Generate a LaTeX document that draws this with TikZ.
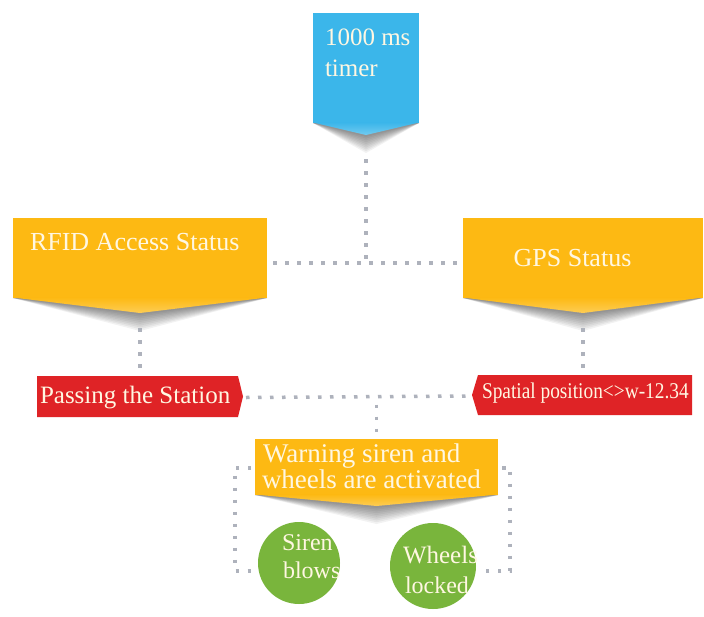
\documentclass[tikz,border=0pt]{standalone}
\usepackage{fontspec}
\setmainfont{Liberation Serif}
\usetikzlibrary{calc}
\definecolor{cblue}{HTML}{3BB6EA}
\definecolor{cyel}{HTML}{FDB913}
\definecolor{cred}{HTML}{DF2326}
\definecolor{cgreen}{HTML}{79B53C}
\definecolor{ctext}{HTML}{FFF7E2}
\definecolor{cdot}{HTML}{AEB2BC}
\newcommand\mychev[3]{%
  \foreach \k in {1,...,10}{%
    \fill[black,opacity=0.05] (#1.south west) -- ($(#1.south)+(0,#2+1.8*\k)$) -- (#1.south east) -- cycle;}
  \fill[#3] (#1.north west) rectangle (#1.south east);
  \shade[top color=#3,bottom color=#3!72!white] ($(#1.south west)+(0,-0.5)$) -- ($(#1.south)+(0,#2)$) -- ($(#1.south east)+(0,-0.5)$) -- cycle;
}
\begin{document}
\begin{tikzpicture}[x=1pt,y=-1pt,
  box/.style={inner sep=0pt,outer sep=0pt},
  dotline/.style={cdot,line width=3.5pt,dash pattern=on 3.5pt off 8.5pt},
  lbl/.style={text=ctext,inner sep=0pt,outer sep=0pt},
  fA/.style={font=\fontsize{25}{25}\selectfont},
  fB/.style={font=\fontsize{26}{26}\selectfont},
  fC/.style={font=\fontsize{27}{27}\selectfont},
  fD/.style={font=\fontsize{24}{24}\selectfont},
]
\useasboundingbox (0,0) rectangle (704,616);
\fill[white] (0,0) rectangle (704,616);

% shape nodes
\node[box,minimum width=106pt,minimum height=110pt] (timer) at (366,68) {};
\node[box,minimum width=254pt,minimum height=80pt] (rfid) at (140,258) {};
\node[box,minimum width=240pt,minimum height=80pt] (gps) at (583,258) {};
\node[box,minimum width=201pt,minimum height=41pt] (pass) at (137.5,396.5) {};
\node[box,minimum width=214pt,minimum height=40pt] (spat) at (585,395) {};
\node[box,minimum width=243pt,minimum height=56pt] (warn) at (376.5,467) {};
\node[circle,fill=cgreen,minimum size=82pt,inner sep=0pt] (siren) at (299,563) {};
\node[circle,fill=cgreen,minimum size=86pt,inner sep=0pt] (wheels) at (433,566) {};

% chevron boxes
\mychev{timer}{12}{cblue}
\mychev{rfid}{15}{cyel}
\mychev{gps}{15}{cyel}
\mychev{warn}{11}{cyel}

% red boxes with notches
\fill[cred] (pass.north west) -- (pass.north east) -- ($(pass.east)+(5,0)$) -- (pass.south east) -- (pass.south west) -- cycle;
\fill[cred] (spat.north west) -- (spat.north east) -- (spat.south east) -- (spat.south west) -- ($(spat.west)+(-6,0)$) -- cycle;

% connectors
\coordinate (j1) at ($(timer.south)+(0,140)$);
\draw[dotline] ($(timer.south)+(0,36)$) -- (j1);
\draw[dotline] ($(rfid.east)+(6,5)$) -- ($(gps.west)+(-4,5)$);
\draw[dotline] ($(rfid.south)+(0,30)$) -- ($(pass.north -| rfid.south)+(0,-4)$);
\draw[dotline] ($(gps.south)+(0,30)$) -- ($(spat.north -| gps.south)+(0,-4)$);
\draw[dotline] ($(pass.east)+(8,1)$) -- ($(spat.west)+(-9,1)$);
\coordinate (j2) at (pass.east -| warn.north);
\draw[dotline] ($(j2)+(0,8)$) -- (warn.north);
\draw[dotline] ($(warn.west)+(-4,1)$) -| ($(siren.west)+(-23,8)$) -- ($(siren.west)+(-4,8)$);
\draw[dotline] ($(warn.east)+(4,1)$) -| ($(wheels.east)+(34,5)$) -- ($(wheels.east)+(4,5)$);

% texts
\node[lbl,fA,anchor=base west] (timerA) at (325,45) {1000 ms};
\node[lbl,fA,anchor=base west] (timerB) at (325,76) {timer};
\node[lbl,fB,anchor=base west] (rfidT) at (30,250) {RFID Access Status};
\node[lbl,fB,anchor=base] (gpsT) at (572.5,266) {GPS Status};
\node[lbl,fA,anchor=base west] (passT) at (40,403) {Passing the Station};
\node[lbl,anchor=base west] (spatT) at (482,398) {\scalebox{0.86}[1]{\fontsize{22.5}{22.5}\selectfont Spatial position<>w-12.34}};
\node[lbl,fC,anchor=base west] (warnA) at (263,462) {Warning siren and};
\node[lbl,fC,anchor=base west] (warnB) at (262,488) {wheels are activated};
\node[lbl,fD,anchor=base west] (sirenA) at (282,550) {Siren};
\node[lbl,fD,anchor=base west] (sirenB) at (283,578) {blows};
\node[lbl,fA,anchor=base west] (wheelsA) at (403,563) {Wheels};
\node[lbl,fD,anchor=base west] (wheelsB) at (405,593) {locked};
\end{tikzpicture}
\end{document}
